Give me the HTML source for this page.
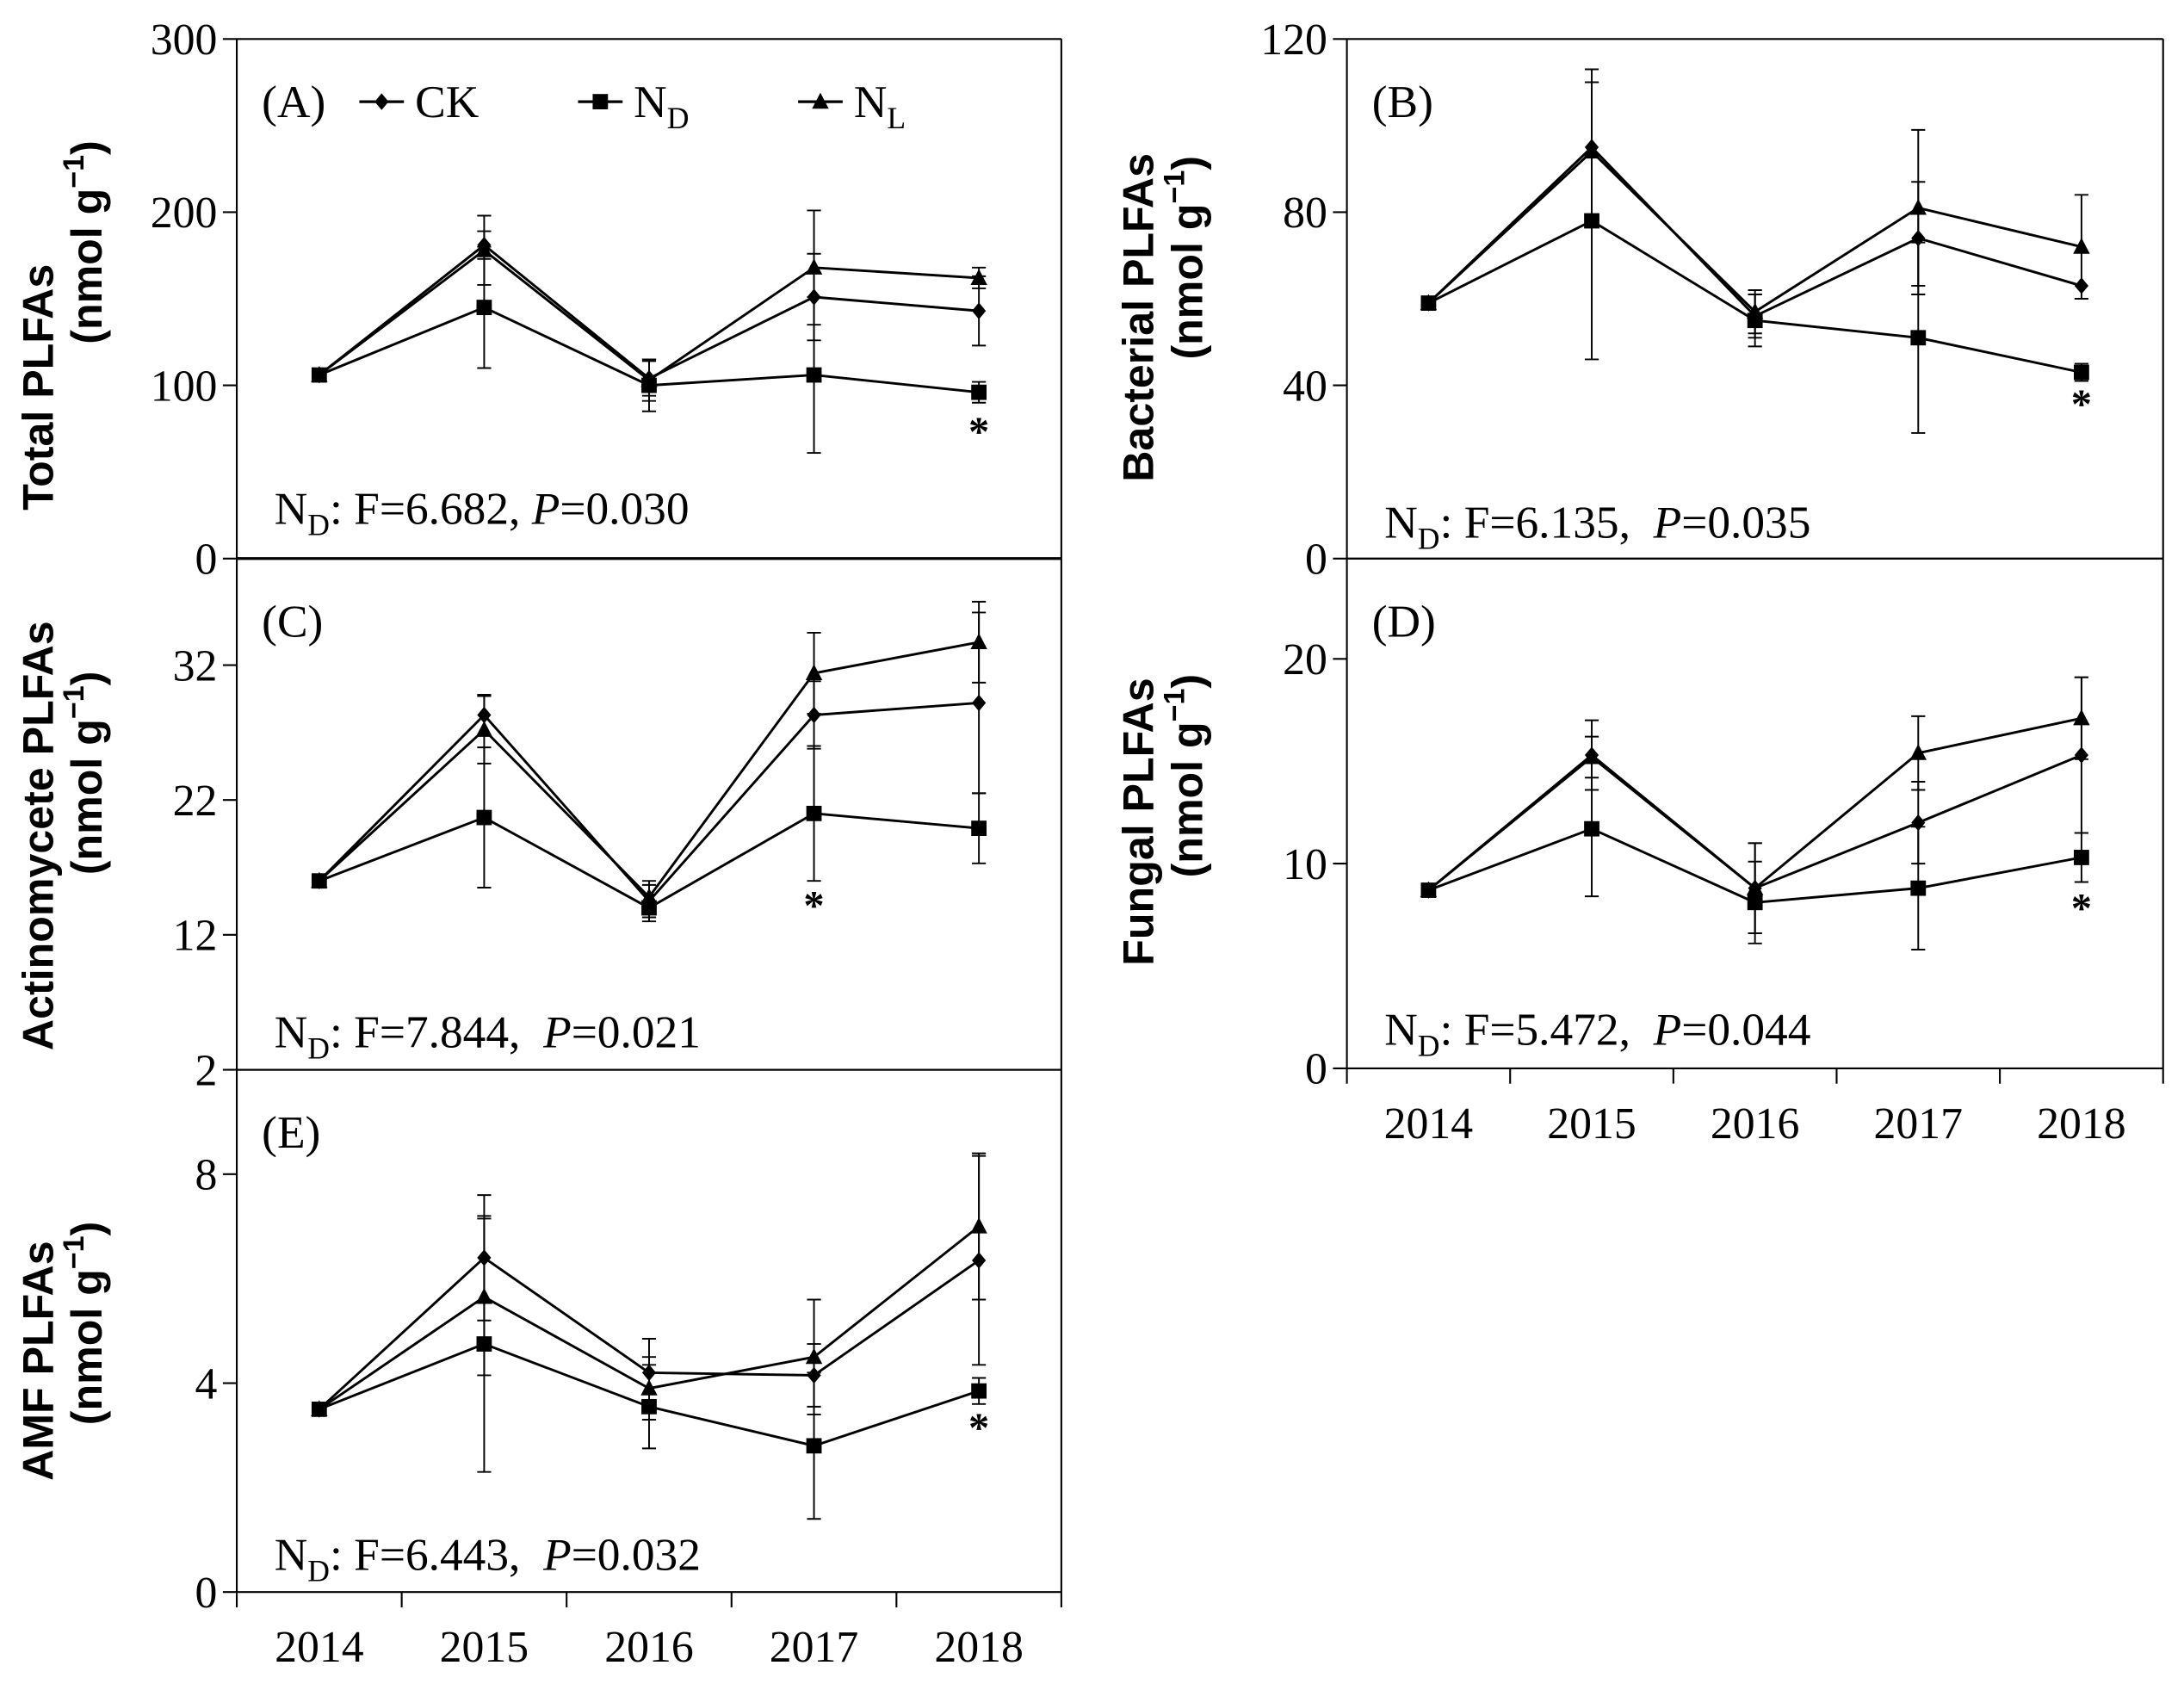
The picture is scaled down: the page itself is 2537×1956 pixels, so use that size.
<!DOCTYPE html>
<html><head><meta charset="utf-8"><style>
html,body{margin:0;padding:0;background:#fff}
svg{display:block}
text{font-family:"Liberation Serif",serif;fill:#000}
.tl{font-family:"Liberation Sans",sans-serif;font-weight:bold}
</style></head><body>
<svg id="fig" width="2537" height="1956" viewBox="0 0 1568 1209" preserveAspectRatio="none" xmlns="http://www.w3.org/2000/svg"></svg>
<script>
const years = ["2014","2015","2016","2017","2018"];
// Panel A
const aCK = [106,181,104,151,143], aND = [106,145,100,106,96], aNL = [106,178,103,168,162];
const aCKe = [0,8,10,25,20], aNDe = [0,35,15,45,6], aNLe = [0,20,12,33,6];
// Panel B
const bCK = [59,95,56,74,63], bND = [59,78,55,51,43], bNL = [59,94,57,81,72];
const bCKe = [0,18,5,13,0], bNDe = [0,32,6,22,2], bNLe = [0,16,5,18,12];
// Panel C
const cCK = [16,28.3,14.5,28.3,29.2], cND = [16,20.7,14,21,19.9], cNL = [16,27.2,14.8,31.4,33.7];
const cCKe = [0,1.5,1.2,2.5,6.7], cNDe = [0,5.2,1,5,2.6], cNLe = [0,2.5,1.2,3,3];
// Panel D
const dCK = [8.7,15.3,8.8,12,15.3], dND = [8.7,11.7,8.1,8.8,10.3], dNL = [8.7,15.2,8.8,15.4,17.1];
const dCKe = [0,1.7,2.2,2,3.8], dNDe = [0,3.3,2,3,1.2], dNLe = [0,1,2.2,1.8,2];
// Panel E
const eCK = [3.5,6.4,4.2,4.15,6.35], eND = [3.5,4.75,3.55,2.8,3.85], eNL = [3.5,5.65,3.9,4.5,7.0];
const eCKe = [0,1.2,0.65,0.6,2.0], eNDe = [0,2.45,0.8,1.4,0.25], eNLe = [0,1.5,0.6,1.1,1.4];

const NS="http://www.w3.org/2000/svg";
const svg=document.getElementById('fig');
function mk(tag,attrs,parent){const e=document.createElementNS(NS,tag);for(const k in attrs)e.setAttribute(k,attrs[k]);(parent||svg).appendChild(e);return e;}

function panel(o){
  const g=mk('g',{});
  
  
  const x=i=>o.x0+(o.x1-o.x0)/5*(i+0.5);
  const y=v=>o.yb-(v-o.vmin)/(o.vmax-o.vmin)*(o.yb-o.yt);
  mk('line',{x1:o.x0,y1:o.yt,x2:o.x1,y2:o.yt,stroke:'#000','stroke-width':1.3},g);
  mk('line',{x1:o.x1,y1:o.yt,x2:o.x1,y2:o.yb,stroke:'#000','stroke-width':1.3},g);
  mk('line',{x1:o.x0,y1:o.yb,x2:o.x1,y2:o.yb,stroke:'#000','stroke-width':o.bw||1.3},g);
  const ax=mk('line',{x1:o.x0,y1:o.yt,x2:o.x0,y2:o.yb,stroke:'#000','stroke-width':1.3},g);
  
  
  o.ticks.forEach(t=>{
    mk('line',{x1:o.x0-10,y1:y(t),x2:o.x0,y2:y(t),stroke:'#000','stroke-width':1.3},g);
    const tx=mk('text',{x:o.x0-14,y:y(t)+11,'font-size':32,'text-anchor':'end'},g);
    
    
    tx.textContent=t;
  });
  if(o.xlab){
    for(let i=0;i<=5;i++){const xx=o.x0+(o.x1-o.x0)/5*i;mk('line',{x1:xx,y1:o.yb,x2:xx,y2:o.yb+11,stroke:'#000','stroke-width':1.3},g);}
    years.forEach((yr,i)=>{
      const tx=mk('text',{x:x(i),y:o.yb+50,'font-size':32,'text-anchor':'middle'},g);
      
      
      tx.textContent=yr;
    });
  }
  const t1=mk('text',{x:o.tx,y:o.c1,'font-size':31,'text-anchor':'middle',transform:`rotate(-90 ${o.tx} ${o.c1})`,class:'tl'},g);
  
  
  t1.textContent=o.title;
  const t2=mk('text',{x:o.tx+35,y:o.c2,'font-size':31,'text-anchor':'middle',transform:`rotate(-90 ${o.tx+35} ${o.c2})`,class:'tl'},g);
  
  
  t2.innerHTML='(nmol g<tspan dy="-13" font-size="21">−1</tspan><tspan dy="13">)</tspan>';
  const lb=mk('text',{x:o.x0+18,y:o.yt+56,'font-size':33},g);
  
  
  lb.textContent=o.label;
  const st=mk('text',{x:o.x0+27,y:o.sy,'font-size':33},g);
  
  
  st.innerHTML='N<tspan dy="8" font-size="22">D</tspan><tspan dy="-8">: F='+o.F+', '+(o.sp?'\u00a0':'')+'</tspan><tspan font-style="italic">P</tspan>='+o.P;
  const series=[['ck',o.ck,o.cke,'diamond'],['nd',o.nd,o.nde,'square'],['nl',o.nl,o.nle,'triangle']];
  series.forEach(([nm,vals,errs,shape])=>{
    const sg=mk('g',{},g);
    
    
    vals.forEach((v,i)=>{
      if(errs[i]>0){
        const e=mk('path',{d:`M${x(i)},${y(v+errs[i])}V${y(v-errs[i])}M${x(i)-5},${y(v+errs[i])}h10M${x(i)-5},${y(v-errs[i])}h10`,stroke:'#000','stroke-width':1.2,fill:'none'},sg);
        
        
      }
    });
    mk('polyline',{points:vals.map((v,i)=>x(i)+','+y(v)).join(' '),fill:'none',stroke:'#000','stroke-width':1.8},sg);
    vals.forEach((v,i)=>{
      const m=marker(shape,x(i),y(v),sg);
      
      
    });
  });
  const st2=mk('text',{x:x(o.star),y:o.stary,'font-size':30,'text-anchor':'middle','font-weight':'bold'},g);
  
  
  st2.textContent='*';
}
function marker(s,cx,cy,p){
  if(s==='diamond')return mk('path',{d:`M${cx},${cy-6}L${cx+5},${cy}L${cx},${cy+6}L${cx-5},${cy}Z`,fill:'#000'},p);
  if(s==='square')return mk('rect',{x:cx-5.5,y:cy-5.5,width:11,height:11,fill:'#000'},p);
  return mk('path',{d:`M${cx},${cy-6.5}L${cx+6},${cy+5}L${cx-6},${cy+5}Z`,fill:'#000'},p);
}
panel({name:'panel-a',x0:170,x1:762,yt:28,yb:401,vmin:0,vmax:300,ticks:[0,100,200,300],title:'Total PLFAs',tx:38,c1:278,c2:174,label:'(A)',F:'6.682',P:'0.030',sp:false,sy:376,ck:aCK,cke:aCKe,nd:aND,nde:aNDe,nl:aNL,nle:aNLe,star:4,stary:320,bw:2});
panel({name:'panel-b',x0:967,x1:1553,yt:28,yb:401,vmin:0,vmax:120,ticks:[0,40,80,120],title:'Bacterial PLFAs',tx:828,c1:228,c2:185,label:'(B)',F:'6.135',P:'0.035',sp:true,sy:386,ck:bCK,cke:bCKe,nd:bND,nde:bNDe,nl:bNL,nle:bNLe,star:4,stary:300});
panel({name:'panel-c',x0:170,x1:762,yt:401,yb:768,vmin:2,vmax:39.9,ticks:[2,12,22,32],title:'Actinomycete PLFAs',tx:38,c1:600,c2:555,label:'(C)',F:'7.844',P:'0.021',sp:true,sy:752,ck:cCK,cke:cCKe,nd:cND,nde:cNDe,nl:cNL,nle:cNLe,star:3,stary:660});
panel({name:'panel-d',x0:967,x1:1553,yt:401,yb:767,vmin:0,vmax:24.9,ticks:[0,10,20],title:'Fungal PLFAs',tx:828,c1:590,c2:557,label:'(D)',F:'5.472',P:'0.044',sp:true,sy:750,ck:dCK,cke:dCKe,nd:dND,nde:dNDe,nl:dNL,nle:dNLe,star:4,stary:662,xlab:true});
panel({name:'panel-e',x0:170,x1:762,yt:768,yb:1143,vmin:0,vmax:10,ticks:[0,4,8],title:'AMF PLFAs',tx:38,c1:977,c2:950,label:'(E)',F:'6.443',P:'0.032',sp:true,sy:1127,ck:eCK,cke:eCKe,nd:eND,nde:eNDe,nl:eNL,nle:eNLe,star:4,stary:1035,xlab:true});
const lg=mk('g',{});


[['CK',258,'diamond',''],['N',415,'square','D'],['N',573,'triangle','L']].forEach(([t,lx,s,sub])=>{
  const eg=mk('g',{},lg);
  
  
  mk('line',{x1:lx,y1:73,x2:lx+32,y2:73,stroke:'#000','stroke-width':2},eg);
  marker(s,lx+16,73,eg);
  const tx=mk('text',{x:lx+40,y:84,'font-size':33},eg);
  tx.innerHTML=t+(sub?'<tspan dy="8" font-size="22">'+sub+'</tspan>':'');
});
</script>
</body></html>
